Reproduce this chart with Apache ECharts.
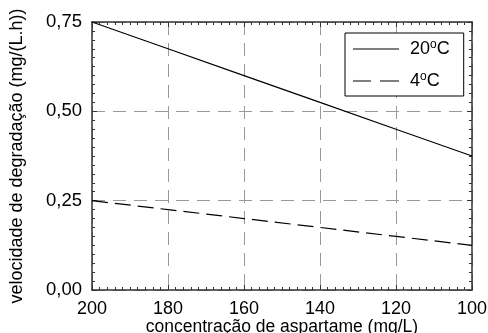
<!DOCTYPE html>
<html>
<head>
<meta charset="utf-8">
<script src="https://cdn.jsdelivr.net/npm/echarts@6/dist/echarts.min.js"></script>
<style>
html,body{margin:0;padding:0;background:#fff;}
#main{width:488px;height:333px;}
</style>
</head>
<body>
<div id="main"></div>
<script>
// concentração (mg/L) e velocidades
var conc = [200, 180, 160, 140, 120, 100];
var v20 = [0.75, 0.675, 0.60, 0.525, 0.45, 0.375];
var v4 = [0.25, 0.225, 0.20, 0.175, 0.15, 0.125];
var seriesNames = ['20C', '4C'];
var legendText = {'20C': '20{sup|o}C', '4C': '4{sup|o}C'};

function pairs(xs, ys){
    var out = [];
    for (var i = 0; i < xs.length; i++) out.push([xs[i], ys[i]]);
    return out;
}

var font = 'Liberation Sans, Arial, sans-serif';
var axisCol = '#333';

// legend icons: thin strokes, tiny posts keep the 46x18 box unscaled
var iconSolid = 'path://M0,0h0.01v18h-0.01z M0,8.4h46v1.2h-46z';
var iconDash = 'path://M0,0h0.01v18h-0.01z M0,8.4h18v1.2h-18z M27,8.4h19v1.2h-19z';

var chart = echarts.init(document.getElementById('main'));

function xAx(pos, show){
    return {
        type: 'value', position: pos, inverse: true,
        min: 100, max: 200, interval: 20,
        name: show ? 'concentração de aspartame (mg/L)' : '',
        nameLocation: 'middle', nameGap: 28, nameMoveOverlap: false,
        nameTextStyle: {fontFamily: font, fontSize: 17.5, color: '#000', verticalAlign: 'top'},
        axisLine: {show: true, onZero: false, lineStyle: {color: axisCol, width: 1.5}},
        axisTick: {show: true, inside: true, length: 5, lineStyle: {color: axisCol}},
        minorTick: {show: true, splitNumber: 10, length: 3, lineStyle: {color: axisCol}},
        axisLabel: {show: show, fontFamily: font, fontSize: 18, color: '#000', margin: 10},
        splitLine: {show: show, lineStyle: {color: '#9a9a9a', width: 1, type: [13, 8]}}
    };
}
function yAx(pos, show){
    return {
        type: 'value', position: pos,
        min: 0, max: 0.75, interval: 0.25,
        name: show ? 'velocidade de degradação (mg/(L.h))' : '',
        nameLocation: 'middle', nameGap: 66, nameMoveOverlap: false,
        nameTextStyle: {fontFamily: font, fontSize: 18, color: '#000'},
        axisLine: {show: true, onZero: false, lineStyle: {color: axisCol, width: 1.5}},
        axisTick: {show: true, inside: true, length: 5, lineStyle: {color: axisCol}},
        minorTick: {show: true, splitNumber: 10, length: 3, lineStyle: {color: axisCol}},
        axisLabel: {show: show, fontFamily: font, fontSize: 18.5, color: '#000', margin: 10,
            formatter: function(v){ return v.toFixed(2).replace('.', ','); }},
        splitLine: {show: show, lineStyle: {color: '#9a9a9a', width: 1, type: [13, 8]}}
    };
}

chart.setOption({
    animation: false,
    backgroundColor: '#fff',
    grid: {left: 92, right: 16, top: 22, bottom: 43, outerBoundsMode: 'none', containLabel: false},
    xAxis: [xAx('bottom', true), xAx('top', false)],
    yAxis: [yAx('left', true), yAx('right', false)],
    legend: {
        orient: 'vertical', left: 345, top: 33,
        padding: [6, 14, 6, 8],
        itemGap: 13, itemWidth: 46, itemHeight: 18,
        backgroundColor: '#fff',
        borderColor: '#000', borderWidth: 1,
        data: [
            {name: seriesNames[0], icon: iconSolid, itemStyle: {color: '#000'}},
            {name: seriesNames[1], icon: iconDash, itemStyle: {color: '#000'}}
        ],
        formatter: function(n){ return legendText[n]; },
        textStyle: {fontFamily: font, fontSize: 18, color: '#000', padding: [0, 0, 0, 6],
            rich: {sup: {fontFamily: font, fontSize: 12, color: '#000', verticalAlign: 'top', padding: [0, 0, 8, 0]}}}
    },
    series: [
        {name: seriesNames[0], type: 'line', data: pairs(conc, v20), symbol: 'none',
         lineStyle: {color: '#000', width: 1.2, type: 'solid'}, itemStyle: {color: '#000'}},
        {name: seriesNames[1], type: 'line', data: pairs(conc, v4), symbol: 'none',
         lineStyle: {color: '#000', width: 1.2, type: [16, 7]}, itemStyle: {color: '#000'}}
    ]
});
</script>
</body>
</html>
